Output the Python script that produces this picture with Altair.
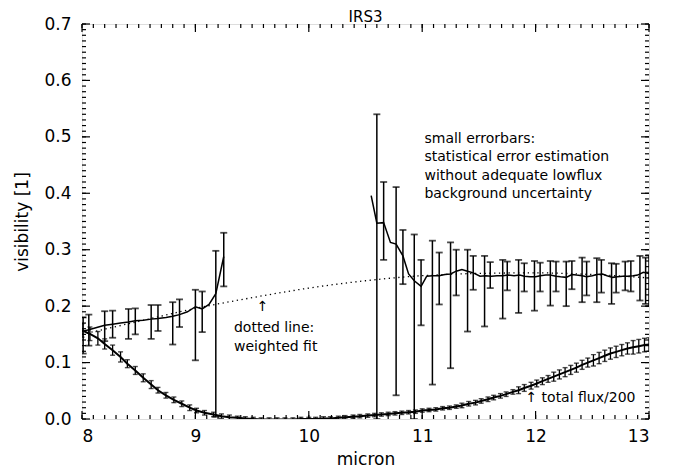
import altair as alt
import pandas as pd
import numpy as np

# ---------------- data ----------------
# visibility (upper curve), two wavelength segments
vis_left_x = [8.00, 8.06, 8.13, 8.20, 8.27, 8.34, 8.41, 8.47, 8.54, 8.61, 8.67, 8.74,
              8.80, 8.86, 8.93, 9.00, 9.06, 9.12, 9.18, 9.25]
vis_left_y = [0.155, 0.158, 0.162, 0.166, 0.168, 0.170, 0.172, 0.174, 0.175, 0.177, 0.178, 0.180,
              0.182, 0.185, 0.190, 0.199, 0.195, 0.203, 0.222, 0.288]
vis_right_x = [10.55, 10.60, 10.66, 10.72, 10.77, 10.83, 10.88, 10.93, 10.99, 11.04, 11.09, 11.15,
               11.20, 11.25, 11.30, 11.35, 11.40, 11.45, 11.51, 11.56, 11.61, 11.66, 11.71, 11.76,
               11.81, 11.86, 11.90, 11.95, 12.00, 12.04, 12.09, 12.13, 12.18, 12.22, 12.27, 12.32,
               12.36, 12.41, 12.45, 12.50, 12.54, 12.59, 12.63, 12.68, 12.72, 12.77, 12.81, 12.86,
               12.90, 12.95, 13.00]
vis_right_y = [0.396, 0.347, 0.348, 0.313, 0.310, 0.289, 0.257, 0.245, 0.235, 0.253, 0.254, 0.254,
               0.256, 0.257, 0.262, 0.265, 0.262, 0.259, 0.253, 0.254, 0.253, 0.254, 0.254, 0.255,
               0.254, 0.255, 0.253, 0.252, 0.252, 0.254, 0.255, 0.255, 0.253, 0.252, 0.251, 0.256,
               0.255, 0.254, 0.252, 0.254, 0.256, 0.257, 0.254, 0.251, 0.252, 0.253, 0.253, 0.254,
               0.255, 0.260, 0.258]

# visibility error bars
verr_x = [8.01, 8.06, 8.20, 8.27, 8.41, 8.47, 8.61, 8.67, 8.80, 8.86, 9.00, 9.06, 9.18, 9.25,
          10.60, 10.66, 10.77, 10.83, 10.93, 10.99, 11.09, 11.15, 11.25, 11.30, 11.40, 11.45,
          11.55, 11.60, 11.71, 11.75, 11.85, 11.90, 11.99, 12.04, 12.13, 12.18, 12.27, 12.32,
          12.41, 12.45, 12.54, 12.58, 12.67, 12.71, 12.79, 12.84, 12.92, 12.97, 13.00]
verr_lo = [0.116, 0.130, 0.138, 0.144, 0.142, 0.150, 0.142, 0.156, 0.132, 0.163, 0.104, 0.154, 0.004, 0.235,
           0.000, 0.282, 0.042, 0.239, 0.000, 0.166, 0.061, 0.203, 0.090, 0.219, 0.155, 0.229,
           0.164, 0.232, 0.178, 0.228, 0.188, 0.226, 0.192, 0.226, 0.201, 0.226, 0.200, 0.230,
           0.207, 0.219, 0.207, 0.224, 0.204, 0.224, 0.228, 0.226, 0.210, 0.204, 0.200]
verr_hi = [0.180, 0.185, 0.191, 0.192, 0.195, 0.196, 0.202, 0.202, 0.207, 0.212, 0.229, 0.226, 0.298, 0.330,
           0.540, 0.420, 0.411, 0.335, 0.327, 0.282, 0.316, 0.295, 0.313, 0.300, 0.300, 0.289,
           0.289, 0.278, 0.282, 0.279, 0.282, 0.276, 0.280, 0.277, 0.280, 0.279, 0.279, 0.280,
           0.286, 0.279, 0.285, 0.282, 0.276, 0.275, 0.279, 0.280, 0.289, 0.286, 0.290]

# total flux / 200 (lower curve)
flux_x = [8.00, 8.07, 8.14, 8.20, 8.27, 8.34, 8.40, 8.47, 8.54, 8.61, 8.67, 8.74, 8.81, 8.88,
          8.95, 9.01, 9.08, 9.16, 9.23, 9.30, 9.37, 9.44, 9.51, 9.58, 9.65, 9.72, 9.79, 9.86,
          9.93, 10.00, 10.06, 10.13, 10.19, 10.26, 10.32, 10.39, 10.45, 10.52, 10.58, 10.64,
          10.70, 10.76, 10.82, 10.88, 10.94, 11.00, 11.06, 11.12, 11.18, 11.24, 11.30, 11.35,
          11.41, 11.47, 11.52, 11.58, 11.63, 11.69, 11.74, 11.80, 11.85, 11.90, 11.96, 12.01,
          12.06, 12.11, 12.16, 12.21, 12.26, 12.31, 12.36, 12.41, 12.46, 12.51, 12.56, 12.61,
          12.66, 12.71, 12.76, 12.81, 12.86, 12.91, 12.96, 13.00]
flux_y = [0.157, 0.151, 0.143, 0.133, 0.122, 0.110, 0.098, 0.086, 0.073, 0.061, 0.051, 0.042, 0.034, 0.027,
          0.020, 0.015, 0.011, 0.008, 0.005, 0.003, 0.002, 0.001, 0.000, -0.001, -0.001, -0.001, -0.001, -0.001,
          0.000, 0.000, 0.000, 0.001, 0.001, 0.002, 0.003, 0.004, 0.005, 0.006, 0.007, 0.008,
          0.009, 0.010, 0.011, 0.012, 0.013, 0.015, 0.016, 0.017, 0.019, 0.020, 0.022, 0.024,
          0.027, 0.029, 0.032, 0.035, 0.038, 0.041, 0.044, 0.048, 0.051, 0.055, 0.059, 0.063,
          0.067, 0.071, 0.075, 0.079, 0.083, 0.087, 0.091, 0.096, 0.100, 0.104, 0.108, 0.112,
          0.116, 0.119, 0.122, 0.125, 0.127, 0.129, 0.131, 0.132]
flux_err = [0.012, 0.012, 0.012, 0.009, 0.009, 0.009, 0.007, 0.007, 0.007, 0.007, 0.005, 0.005, 0.005, 0.005,
            0.005, 0.004, 0.004, 0.004, 0.004, 0.004, 0.003, 0.003, 0.003, 0.003, 0.003, 0.003, 0.003, 0.003,
            0.003, 0.003, 0.003, 0.003, 0.003, 0.003, 0.003, 0.003, 0.003, 0.003, 0.003, 0.003,
            0.003, 0.003, 0.003, 0.003, 0.003, 0.003, 0.003, 0.003, 0.003, 0.003, 0.003, 0.004,
            0.004, 0.004, 0.004, 0.004, 0.004, 0.004, 0.004, 0.004, 0.006, 0.006, 0.006, 0.006,
            0.006, 0.006, 0.008, 0.008, 0.008, 0.008, 0.008, 0.008, 0.008, 0.010, 0.010, 0.010,
            0.010, 0.010, 0.010, 0.010, 0.012, 0.012, 0.012, 0.012]

# weighted fit (dotted)
fit_x = [8.0, 8.5, 9.0, 9.5, 10.0, 10.5, 11.0, 11.5, 12.0, 12.5, 13.0]
fit_y = [0.150, 0.173, 0.196, 0.215, 0.232, 0.245, 0.254, 0.258, 0.259, 0.256, 0.250]

# annotations
ann_text = ["small errorbars:", "statistical error estimation", "without adequate lowflux",
            "background uncertainty", "\u2191", "dotted line:", "weighted fit", "\u2191 total flux/200"]
ann_x = [11.02, 11.02, 11.02, 11.02, 9.54, 9.34, 9.34, 11.91]
ann_y = [0.497, 0.464, 0.431, 0.398, 0.198, 0.162, 0.128, 0.037]

title_text = ["IRS3"]
title_x = [10.5]

x_major = [8, 9, 10, 11, 12, 13]
y_major = [0.0, 0.1, 0.2, 0.3, 0.4, 0.5, 0.6, 0.7]

# ---------------- chart ----------------
W, H = 567, 395
FONT = "DejaVu Sans"

xs = alt.Scale(domain=[8, 13], nice=False, zero=False)
ys = alt.Scale(domain=[0, 0.7], nice=False, zero=False)

vis_df = pd.DataFrame({
    "x": vis_left_x + vis_right_x,
    "y": vis_left_y + vis_right_y,
    "seg": ["a"] * len(vis_left_x) + ["b"] * len(vis_right_x),
})
verr_df = pd.DataFrame({"x": verr_x, "lo": verr_lo, "hi": verr_hi})
flux_df = pd.DataFrame({"x": flux_x, "y": flux_y, "err": flux_err})
flux_df["lo"] = flux_df["y"] - flux_df["err"]
flux_df["hi"] = flux_df["y"] + flux_df["err"]
fit_df = pd.DataFrame({"x": fit_x, "y": fit_y})
ann_df = pd.DataFrame({"t": ann_text, "x": ann_x, "y": ann_y})
title_df = pd.DataFrame({"t": title_text, "x": title_x})

xmaj_df = pd.DataFrame({"t": x_major})
xmin_df = pd.DataFrame({"t": np.round(np.arange(8.0, 13.0001, 0.1), 2)})
ymaj_df = pd.DataFrame({"t": y_major})
ymin_df = pd.DataFrame({"t": np.round(np.arange(0.0, 0.7001, 0.01), 3)})

X = alt.X("x:Q", scale=xs, title="micron",
          axis=alt.Axis(values=x_major, format="d", ticks=False, domain=False, grid=False,
                        labelFontSize=17, labelPadding=9, labelFont=FONT, labelColor="black",
                        titleFontSize=17, titleFont=FONT, titleFontWeight="normal", titleColor="black",
                        titleY=40, titleBaseline="middle"))
Y = alt.Y("y:Q", scale=ys, title="visibility [1]",
          axis=alt.Axis(values=y_major, format=".1f", ticks=False, domain=False, grid=False,
                        labelFontSize=17, labelPadding=11, labelFont=FONT, labelColor="black",
                        titleFontSize=17, titleFont=FONT, titleFontWeight="normal", titleColor="black",
                        titleX=-60, titleY=H / 2, titleBaseline="middle", titleAngle=-90))

lw = 1.5

flux_line = alt.Chart(flux_df).mark_line(color="black", strokeWidth=2, clip=True).encode(x=X, y=Y)
flux_bar = alt.Chart(flux_df).mark_rule(color="black", strokeWidth=1.3, clip=True).encode(
    x=alt.X("x:Q", scale=xs), y=alt.Y("lo:Q", scale=ys), y2="hi:Q")
flux_cap_hi = alt.Chart(flux_df).mark_tick(color="black", orient="horizontal", size=5, thickness=1.4, clip=True).encode(
    x=alt.X("x:Q", scale=xs), y=alt.Y("hi:Q", scale=ys))
flux_cap_lo = alt.Chart(flux_df).mark_tick(color="black", orient="horizontal", size=5, thickness=1.4, clip=True).encode(
    x=alt.X("x:Q", scale=xs), y=alt.Y("lo:Q", scale=ys))

vis_line = alt.Chart(vis_df).mark_line(color="black", strokeWidth=lw, clip=True).encode(
    x=alt.X("x:Q", scale=xs), y=alt.Y("y:Q", scale=ys), detail="seg:N")
vis_bar = alt.Chart(verr_df).mark_rule(color="black", strokeWidth=lw, clip=True).encode(
    x=alt.X("x:Q", scale=xs), y=alt.Y("lo:Q", scale=ys), y2="hi:Q")
vis_cap_hi = alt.Chart(verr_df).mark_tick(color="black", orient="horizontal", size=7, thickness=1.8, clip=True).encode(
    x=alt.X("x:Q", scale=xs), y=alt.Y("hi:Q", scale=ys))
vis_cap_lo = alt.Chart(verr_df).mark_tick(color="black", orient="horizontal", size=7, thickness=1.8, clip=True).encode(
    x=alt.X("x:Q", scale=xs), y=alt.Y("lo:Q", scale=ys))

fit_line = alt.Chart(fit_df).mark_line(color="black", strokeWidth=1.3, strokeDash=[1.3, 3.5],
                                       interpolate="monotone", clip=True).encode(
    x=alt.X("x:Q", scale=xs), y=alt.Y("y:Q", scale=ys))

ann = alt.Chart(ann_df).mark_text(align="left", baseline="middle", fontSize=14, font=FONT,
                                  color="black").encode(
    x=alt.X("x:Q", scale=xs), y=alt.Y("y:Q", scale=ys), text="t:N")

title = alt.Chart(title_df).mark_text(align="center", baseline="alphabetic", fontSize=15, font=FONT,
                                      color="black", dy=-2).encode(
    x=alt.X("x:Q", scale=xs), y=alt.value(0), text="t:N")

# inward axis ticks on all four sides
MJ, MN = 8, 4
tick_layers = [
    alt.Chart(xmaj_df).mark_rule(color="black", strokeWidth=1.2).encode(
        x=alt.X("t:Q", scale=xs), y=alt.value(H), y2=alt.value(H - MJ)),
    alt.Chart(xmin_df).mark_rule(color="black", strokeWidth=1.2).encode(
        x=alt.X("t:Q", scale=xs), y=alt.value(H), y2=alt.value(H - MN)),
    alt.Chart(xmaj_df).mark_rule(color="black", strokeWidth=1.2).encode(
        x=alt.X("t:Q", scale=xs), y=alt.value(0), y2=alt.value(MJ)),
    alt.Chart(xmin_df).mark_rule(color="black", strokeWidth=1.2).encode(
        x=alt.X("t:Q", scale=xs), y=alt.value(0), y2=alt.value(MN)),
    alt.Chart(ymaj_df).mark_rule(color="black", strokeWidth=1.2).encode(
        y=alt.Y("t:Q", scale=ys), x=alt.value(0), x2=alt.value(MJ)),
    alt.Chart(ymin_df).mark_rule(color="black", strokeWidth=1.2).encode(
        y=alt.Y("t:Q", scale=ys), x=alt.value(0), x2=alt.value(MN)),
    alt.Chart(ymaj_df).mark_rule(color="black", strokeWidth=1.2).encode(
        y=alt.Y("t:Q", scale=ys), x=alt.value(W), x2=alt.value(W - MJ)),
    alt.Chart(ymin_df).mark_rule(color="black", strokeWidth=1.2).encode(
        y=alt.Y("t:Q", scale=ys), x=alt.value(W), x2=alt.value(W - MN)),
]

chart = alt.layer(
    flux_line, flux_bar, flux_cap_hi, flux_cap_lo,
    fit_line,
    vis_line, vis_bar, vis_cap_hi, vis_cap_lo,
    ann, title, *tick_layers
).properties(
    width=W, height=H,
    autosize=alt.AutoSizeParams(type="none"),
    padding={"left": 74, "top": 16, "right": 20, "bottom": 49},
).configure_view(
    stroke="black", strokeWidth=1.5
).configure(background="white")

chart.save("out.html", embed_options={"renderer": "svg", "actions": False})
